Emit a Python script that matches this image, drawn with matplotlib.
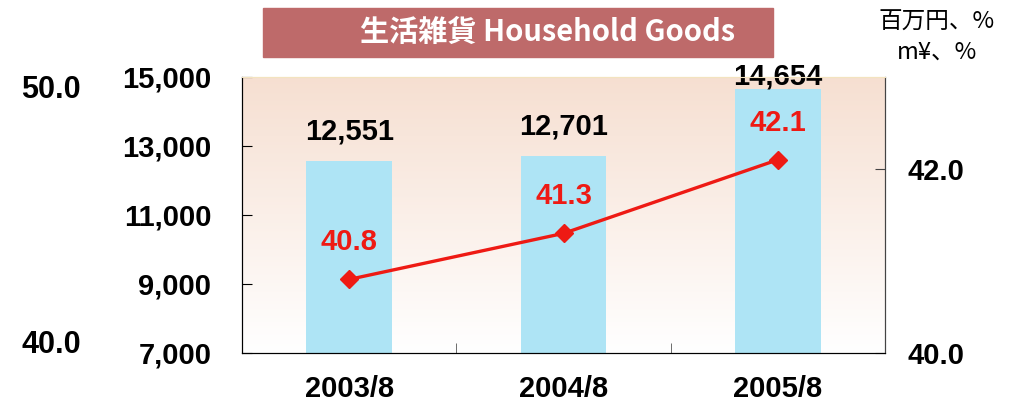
import numpy as np
import matplotlib
matplotlib.use('Agg')
import matplotlib.pyplot as plt
from matplotlib.patches import Rectangle

periods = ['2003/8', '2004/8', '2005/8']
sales = [12551, 12701, 14654]          # 百万円
ratio = [40.8, 41.3, 42.1]             # %
left_ticks = [7000, 9000, 11000, 13000, 15000]
right_ticks = [40.0, 42.0]

NUM_FONT = ['Liberation Sans', 'DejaVu Sans']
JP_FONT = ['Noto Sans CJK JP', 'DejaVu Sans']

fig = plt.figure(figsize=(10.33, 4.03), dpi=100)
ax = fig.add_axes([0.2343, 0.1241, 0.6224, 0.6849])
ax2 = ax.twinx()

x = np.arange(len(periods))
ax.set_xlim(-0.5, len(periods) - 0.5)
ax.set_ylim(7000, 15000)
ax2.set_ylim(40.0, 43.0)

# gradient background, peach at top fading to white
grad = np.linspace(0, 1, 256).reshape(-1, 1)
top = np.array([0.965, 0.875, 0.82])
bot = np.array([1.0, 1.0, 1.0])
img = top * (1 - grad[..., None]) + bot * grad[..., None]
ax.imshow(img, extent=[-0.5, len(periods) - 0.5, 7000, 15000], origin='upper',
          aspect='auto', zorder=0)

ax.bar(x, sales, width=0.4, color='#aee4f5', zorder=2)
for xi, v, off in zip(x, sales, [30, 30, 12]):
    ax.annotate(f'{v:,}', (xi, v), xytext=(0, off), textcoords='offset pixels',
                ha='center', va='center', fontsize=21, fontweight='bold',
                family=NUM_FONT, color='black', annotation_clip=False, zorder=5)

ax2.plot(x, ratio, color='#ee1a14', lw=2.4, marker='D', markersize=9, zorder=4)
for xi, v in zip(x, ratio):
    ax2.annotate(f'{v:.1f}', (xi, v), xytext=(0, 37), textcoords='offset pixels',
                 ha='center', va='center', fontsize=21, fontweight='bold',
                 family=NUM_FONT, color='#ee1a14', zorder=5)

# axes styling
ax.set_yticks(left_ticks)
ax.set_yticklabels([f'{t:,}' for t in left_ticks])
ax.tick_params(axis='y', direction='in', length=7, pad=22, labelsize=21)
ax.set_xticks(x)
ax.set_xticklabels(periods)
ax.tick_params(axis='x', length=0, pad=16, labelsize=21)
ax.set_xticks([0.5, 1.5], minor=True)
ax.tick_params(axis='x', which='minor', direction='in', length=7, color='#555555')
ax2.set_yticks(right_ticks)
ax2.set_yticklabels([f'{t:.1f}' for t in right_ticks])
ax2.tick_params(axis='y', direction='in', length=7, pad=16, labelsize=21, color='#444444')
for a in (ax, ax2):
    for lab in a.get_xticklabels() + a.get_yticklabels():
        lab.set_family(NUM_FONT)
        lab.set_fontweight('bold')
    a.spines['left'].set_color('black')
    a.spines['bottom'].set_color('black')
    a.spines['right'].set_color('#444444')
    a.spines['top'].set_color('#f3e3bf')

ax.set_zorder(1)
ax2.set_zorder(2)
ax2.patch.set_visible(False)

# title box
fig.patches.append(Rectangle((263 / 1033, 1 - 57 / 403), 510 / 1033, 49 / 403,
                             transform=fig.transFigure, color='#be6a6a', zorder=0))
fig.text(548 / 1033, 1 - 32 / 403, '生活雑貨 Household Goods', ha='center', va='center',
         color='white', fontsize=21, fontweight='bold', family=JP_FONT)

# units
fig.text(937 / 1033, 1 - 22 / 403, '百万円、%', ha='center', va='center',
         fontsize=17, family=JP_FONT)
fig.text(937 / 1033, 1 - 52 / 403, 'm¥、%', ha='center', va='center',
         fontsize=17, family=JP_FONT)

# stray labels on the far left
fig.text(51 / 1033, 1 - 90 / 403, '50.0', ha='center', va='center', fontsize=22,
         fontweight='bold', family=NUM_FONT)
fig.text(51 / 1033, 1 - 345 / 403, '40.0', ha='center', va='center', fontsize=22,
         fontweight='bold', family=NUM_FONT)

fig.savefig('out.png', dpi=100)
